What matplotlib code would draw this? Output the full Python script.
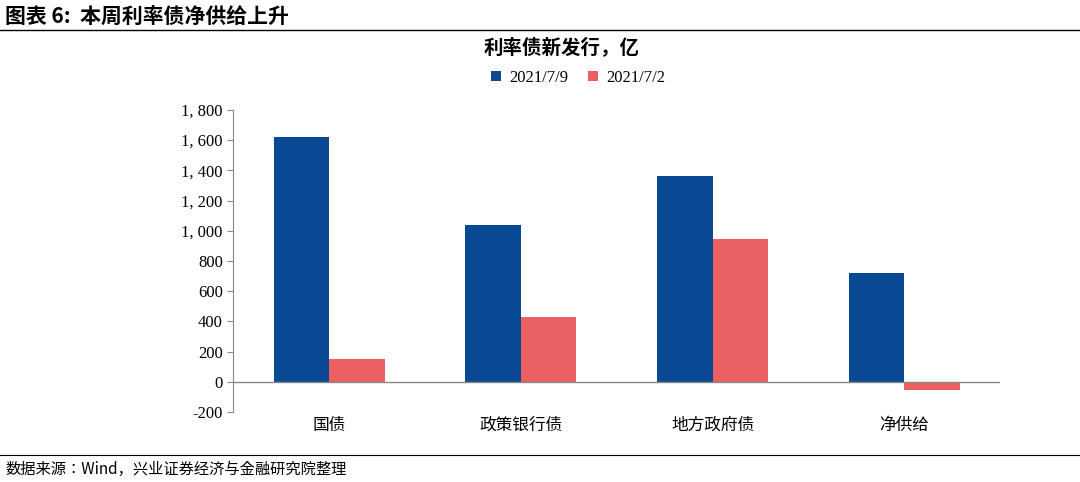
import matplotlib
matplotlib.use("Agg")
import matplotlib.pyplot as plt
from matplotlib import font_manager as fm
import numpy as np, glob

categories = ["国债", "政策银行债", "地方政府债", "净供给"]
s_0709 = [1620, 1040, 1365, 720]
s_0702 = [150, 430, 945, -55]
series_names = ["2021/7/9", "2021/7/2"]
yticks = list(range(-200, 1801, 200))

cands = [f for f in fm.findSystemFonts() if "CJK" in f or "cjk" in f.lower()]
cands += glob.glob("/usr/share/fonts/**/*CJK*", recursive=True)
pick = None
for f in cands:
    if "SC" in f or "Regular" in f or f.endswith(".ttc"):
        pick = f; break
if pick is None and cands:
    pick = cands[0]
if pick:
    fm.fontManager.addfont(pick)
    cjkname = fm.FontProperties(fname=pick).get_name()
else:
    cjkname = "Noto Sans CJK SC"

def cp(size, weight="normal"):
    return fm.FontProperties(family=[cjkname], size=size, weight=weight)

serif = "Liberation Serif"
blue = "#0A4A94"
red = "#EB6163"

fig = plt.figure(figsize=(10.8, 4.82), dpi=100)
ax = fig.add_axes([0.216, 0.145, 0.71, 0.627])
x = np.arange(len(categories))
w = 0.29
ax.bar(x - w/2, s_0709, w, color=blue, label=series_names[0])
ax.bar(x + w/2, s_0702, w, color=red, label=series_names[1])
ax.set_xlim(-0.5, 3.5)
ax.set_ylim(-200, 1800)
ax.set_yticks(yticks)
ax.set_yticklabels([f"{v:,}".replace(",", ", ") if v >= 1000 else str(v) for v in yticks],
                   fontfamily=serif, fontsize=12)
ax.axhline(0, color="#888888", lw=1)
for s in ["top", "right", "bottom"]:
    ax.spines[s].set_visible(False)
ax.spines["left"].set_color("#888888")
ax.tick_params(axis="y", direction="out", color="#888888", length=4)
ax.set_xticks([])
for i, c in enumerate(categories):
    ax.text(i, -230, c, ha="center", va="top", fontproperties=cp(12))
ax.legend(loc="lower center", bbox_to_anchor=(0.45, 1.03), ncol=2, frameon=False,
          prop={"family": serif, "size": 12}, handlelength=0.6, handleheight=0.6,
          columnspacing=1.2, handletextpad=0.5)
fig.text(0.52, 0.90, "利率债新发行，亿", ha="center", va="center", fontproperties=cp(14, "bold"))
fig.text(0.005, 0.965, "图表 6:  本周利率债净供给上升", ha="left", va="center",
         fontproperties=cp(15, "bold"))
fig.add_artist(plt.Line2D([0, 1], [0.937, 0.937], color="black", lw=1))
fig.add_artist(plt.Line2D([0, 1], [0.057, 0.057], color="black", lw=0.8))
fig.text(0.005, 0.025, "数据来源：Wind，兴业证券经济与金融研究院整理", ha="left",
         va="center", fontproperties=cp(11))
fig.savefig("out.png", dpi=100)
